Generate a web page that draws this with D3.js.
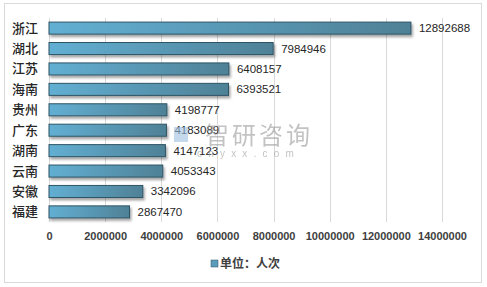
<!DOCTYPE html>
<html><head><meta charset="utf-8">
<script src="https://cdn.jsdelivr.net/npm/d3@7/dist/d3.min.js"></script>
<style>
html,body{margin:0;padding:0;background:#fff;}
svg{display:block;font-family:"Liberation Sans","Noto Sans CJK SC",sans-serif;}
</style></head>
<body><svg id="c" width="487" height="287"></svg>
<script>
const categories = ["浙江","湖北","江苏","海南","贵州","广东","湖南","云南","安徽","福建"];
const values = [12892688,7984946,6408157,6393521,4198777,4183089,4147123,4053343,3342096,2867470];
const tickValues = [0,2000000,4000000,6000000,8000000,10000000,12000000,14000000];
const seriesName = "单位：人次";

const svg = d3.select("#c");
const defs = svg.append("defs");
const grad = defs.append("linearGradient").attr("id","g").attr("x1","0").attr("x2","1").attr("y1","0").attr("y2","0");
grad.append("stop").attr("offset","0%").attr("stop-color","#62afd3");
grad.append("stop").attr("offset","100%").attr("stop-color","#4f8196");
const f = defs.append("filter").attr("id","sh").attr("x","-5%").attr("y","-30%").attr("width","115%").attr("height","190%");
f.append("feDropShadow").attr("dx",1.5).attr("dy",2.5).attr("stdDeviation",1.3).attr("flood-color","#000").attr("flood-opacity",0.35);

// outer border
svg.append("rect").attr("x",4.5).attr("y",3.5).attr("width",477).attr("height",279).attr("fill","#fff").attr("stroke","#d9d9d9");

const x = d3.scaleLinear().domain([0,14000000]).range([49,442]);
const y = d3.scaleBand().domain(categories).range([18,222]).paddingInner(0.41).paddingOuter(0.2);

// gridlines
svg.append("g").selectAll("line").data(tickValues).join("line")
  .attr("x1",d=>Math.round(x(d))+0.5).attr("x2",d=>Math.round(x(d))+0.5)
  .attr("y1",18).attr("y2",222).attr("stroke","#d9d9d9").attr("stroke-width",1);

// bars
svg.append("g").selectAll("rect").data(values).join("rect")
  .attr("x",x(0)).attr("y",(d,i)=>y(categories[i]))
  .attr("width",d=>x(d)-x(0)).attr("height",y.bandwidth())
  .attr("fill","url(#g)").attr("stroke","#2e5566").attr("stroke-width",1)
  .attr("filter","url(#sh)");

// value labels
svg.append("g").selectAll("text").data(values).join("text")
  .attr("x",d=>x(d)+8).attr("y",(d,i)=>y(categories[i])+y.bandwidth()/2+4)
  .attr("font-size",11.5).attr("fill","#262626").text(d=>d);

// watermark (drawn over, as in the reference)
const wm = svg.append("g").attr("opacity",0.6);
wm.append("rect").attr("x",174).attr("y",127).attr("width",14).attr("height",15).attr("fill","#9fc0e0");
wm.append("text").attr("x",205).attr("y",144).attr("font-size",24).attr("fill","#9a9a9a")
  .attr("font-family","Noto Sans CJK SC").attr("letter-spacing",3).text("智研咨询");
wm.append("text").attr("x",197).attr("y",157).attr("font-size",10).attr("fill","#9a9a9a")
  .attr("letter-spacing",6.2).text("chyxx.com");

// category labels
svg.append("g").selectAll("text").data(categories).join("text")
  .attr("x",38).attr("y",d=>y(d)+y.bandwidth()/2+4.5).attr("text-anchor","end")
  .attr("font-size",13).attr("font-weight",500).attr("fill","#262626").attr("font-family","Noto Sans CJK SC").text(d=>d);

// x axis
const ax = svg.append("g").attr("transform","translate(0,222)")
  .call(d3.axisBottom(x).tickValues(tickValues).tickSize(0).tickPadding(10).tickFormat(d=>String(d)));
ax.select(".domain").remove();
ax.selectAll("text").attr("font-size",11).attr("font-weight","bold").attr("fill","#404040")
  .attr("font-family","Liberation Sans");

// legend
svg.append("rect").attr("x",211).attr("y",260).attr("width",7).attr("height",7).attr("fill","#5a9cba").attr("stroke","#2e5566").attr("stroke-width",0.5);
svg.append("text").attr("x",220).attr("y",268).attr("font-size",12).attr("font-weight","bold").attr("fill","#404040")
  .attr("font-family","Noto Sans CJK SC").text(seriesName);
</script></body></html>
